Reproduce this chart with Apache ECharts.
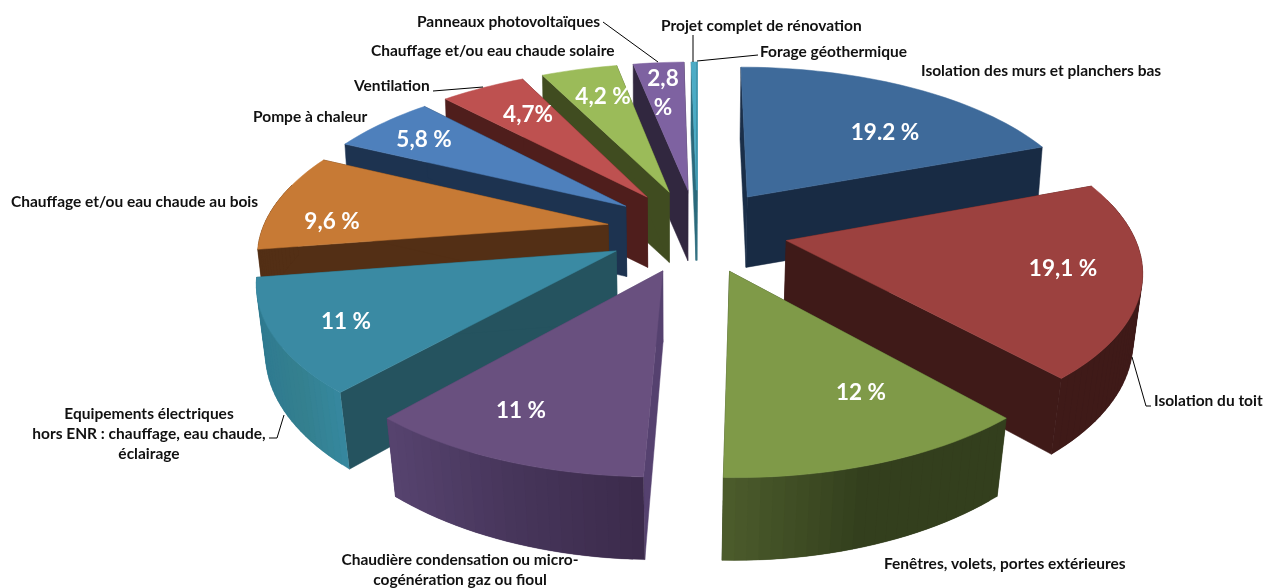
<!DOCTYPE html>
<html><head><meta charset="utf-8">
<style>html,body{margin:0;padding:0;background:#fff}#c{width:1265px;height:588px}</style>
<script src="https://cdn.jsdelivr.net/npm/echarts@6/dist/echarts.min.js"></script>
</head><body><div id="c"></div>
<script>
// ---- data ----
const categories = [
  'Isolation des murs et planchers bas','Isolation du toit','Fenêtres, volets, portes extérieures',
  'Chaudière condensation ou micro-\ncogénération gaz ou fioul',
  'Equipements électriques\nhors ENR : chauffage, eau chaude,\néclairage',
  'Chauffage et/ou eau chaude au bois','Pompe à chaleur','Ventilation',
  'Chauffage et/ou eau chaude solaire','Panneaux photovoltaïques','Projet complet de rénovation','Forage géothermique'];
const values = [19.2,19.1,12,11,11,9.6,5.8,4.7,4.2,2.8,0.25,0.05];
const valueLabels = ['19.2 %','19,1 %','12 %','11 %','11 %','9,6 %','5,8 %','4,7%','4,2 %','2,8\n%','',''];

// ---- styles ----
const topColors  = ['#3E6A9A','#9C413F','#7F9A48','#69507F','#3A8AA3','#C77A35','#4E80BC','#BE5150','#9BBB59','#7E62A1','#4BACC6','#4BACC6'];
const cutColors  = [['#1A2E48','#182B44'],['#3F1A18','#3F1A18'],['#333F1D','#333F1D'],['#55416F','#55416F'],['#25535F','#25535F'],
                    ['#532F15','#532F15'],['#1D3350','#1D3350'],['#4F1E1C','#4F1E1C'],['#404C20','#404C20'],['#31273F','#31273F'],['#2B6A7C','#2B6A7C'],['#2B6A7C','#2B6A7C']];
const wallStops  = [null,['#3F1A18','#3F1A18','#3F1A18'],['#4C5C2C','#333F1D','#333F1D'],['#57436F','#46355A','#3C2B4B'],['#2F7A90','#34808F','#36889F'],['#532F15','#532F15','#532F15'],null,null,null,null,null,null];

// ---- layout ----
const topPlane = {cx:697.3,cy:230.4,a:346.1,b:159.8,px:0.156,py:0.156};
const botPlane = {cx:696.9,cy:301,a:339.5,b:162,px:0.148,py:0.178};
const explode = 0.262, startAngle = 0.0007, wallFrom = 75, wallTo = 285;
const valuePos = [[885,132.5],[1063,268.5],[861,392.5],[521,410.5],[346,321.5],[332,221.5],[424,139.5],[528,114.5],[603,96.5],[663,93.5]];
const namePos = [[921,71,'left'],[1154,401,'left'],[884,564,'left'],[460,570,'center'],[149,434,'center'],[11,202,'left'],[253,117,'left'],[354,86,'left'],[371,51,'left'],[417,22,'left'],[661,26,'left'],[760,52,'left']];
const leaders = [null,[[1132,357],[1146,406],[1151,406]],null,null,[[284,415],[277,438],[269,438]],null,null,[[433,91],[483,87]],null,[[603,22],[658,62]],[[693,35],[693,62]],[[697,61],[758,55]]];

const total = values.reduce((s,v)=>s+v,0);
function project(P,U,V){return [P.cx+P.a*U/(1-P.px*V),P.cy+P.b*V/(1-P.py*V)];}
let cum=0;
const slices = values.map(v=>{const a0=startAngle+cum/total*2*Math.PI;cum+=v;const a1=startAngle+cum/total*2*Math.PI;const m=(a0+a1)/2;
  return {a0,a1,ox:explode*Math.sin(m),oy:-explode*Math.cos(m)};});
const rank = slices.map((s,i)=>i).sort((i,j)=>slices[i].oy-slices[j].oy).reduce((r,i,k)=>{r[i]=k;return r;},[]);
const rim=(s,P,t)=>project(P,s.ox+Math.sin(t),s.oy-Math.cos(t));
const apex=(s,P)=>project(P,s.ox,s.oy);
function arc(s,P,t0,t1){const n=Math.max(2,Math.ceil((t1-t0)/0.03));const out=[];for(let k=0;k<=n;k++)out.push(rim(s,P,t0+(t1-t0)*k/n));return out;}

function renderItem(params){
  const i=params.dataIndex,s=slices[i],z=rank[i]*10,kids=[];
  const poly=(points,fill,z2,lw)=>kids.push({type:'polygon',shape:{points},style:{fill,stroke:fill,lineWidth:lw||0.5},z2:z+z2});
  const A=apex(s,topPlane),B=apex(s,botPlane);
  poly([A,rim(s,topPlane,s.a0),rim(s,botPlane,s.a0),B],cutColors[i][0],1);
  poly([A,rim(s,topPlane,s.a1),rim(s,botPlane,s.a1),B],cutColors[i][1],1);
  const t0=Math.max(s.a0,wallFrom*Math.PI/180),t1=Math.min(s.a1,wallTo*Math.PI/180);
  if(t1>t0&&wallStops[i]){
    const T=arc(s,topPlane,t0,t1),Bt=arc(s,botPlane,t0,t1),xs=Bt.map(p=>p[0]),xmin=Math.min(...xs),xmax=Math.max(...xs);
    for(let k=0;k<T.length-1;k++){
      const e=Math.min(k+2,T.length-1);
      const f=Math.min(1,Math.max(0,((Bt[k][0]+Bt[k+1][0])/2-xmin)/(xmax-xmin)));
      poly([T[k],T[e],Bt[e],Bt[k]],echarts.color.lerp(f,wallStops[i]),2,0.2);
    }
  }
  poly([A].concat(arc(s,topPlane,s.a0,s.a1)),topColors[i],3);
  if(valueLabels[i]) kids.push({type:'text',z2:1000,style:{text:valueLabels[i],x:valuePos[i][0],y:valuePos[i][1],fill:'#fff',fontFamily:'Lato',fontWeight:'bold',fontSize:22.5,lineHeight:29,align:'center',verticalAlign:'middle'}});
  const n=namePos[i];
  kids.push({type:'text',z2:1000,style:{text:categories[i],x:n[0],y:n[1],fill:'#111',fontFamily:'Lato',fontWeight:'bold',fontSize:15.5,lineHeight:20,align:n[2],verticalAlign:'middle'}});
  if(leaders[i]) kids.push({type:'polyline',z2:1000,shape:{points:leaders[i]},style:{stroke:'#000',lineWidth:1,fill:null}});
  return {type:'group',children:kids};
}
const chart=echarts.init(document.getElementById('c'),null,{renderer:'canvas'});
chart.setOption({animation:false,backgroundColor:'#fff',series:[{type:'custom',coordinateSystem:'none',silent:true,renderItem,data:values.map((v,i)=>({name:categories[i],value:v}))}]});
</script></body></html>
